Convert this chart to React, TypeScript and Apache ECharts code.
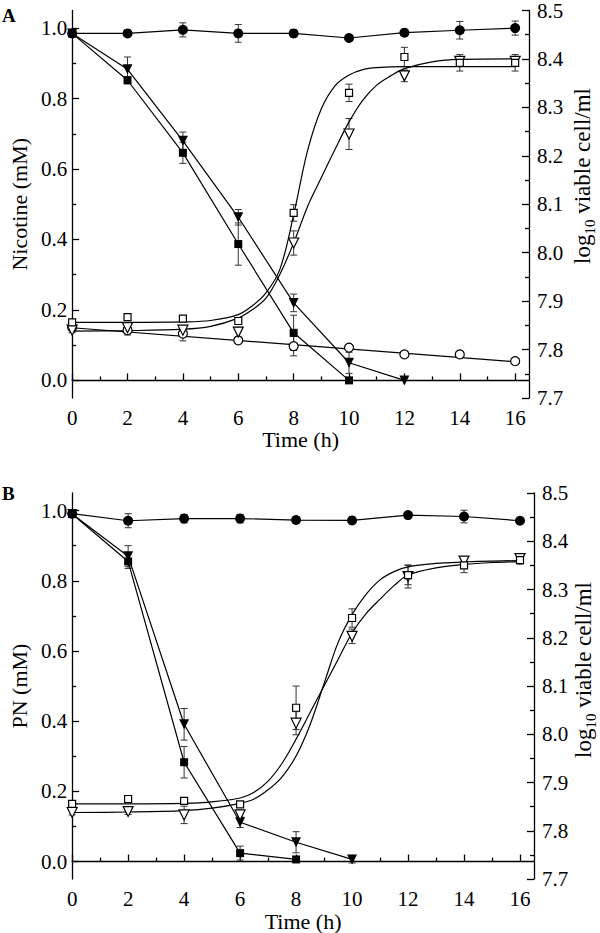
import React, { useEffect, useRef } from "react";
import * as echarts from "echarts";

// ---------- Data ----------
const time = [0, 2, 4, 6, 8, 10, 12, 14, 16];
const xTicks = [0, 2, 4, 6, 8, 10, 12, 14, 16];
const xMinorTicks = [1, 3, 5, 7, 9, 11, 13, 15];
const leftTicks = [0, 0.2, 0.4, 0.6, 0.8, 1.0];
const leftMinorTicks = [0.1, 0.3, 0.5, 0.7, 0.9];
const rightTicks = [7.7, 7.8, 7.9, 8.0, 8.1, 8.2, 8.3, 8.4, 8.5];
const rightMinorTicks = [7.75, 7.85, 7.95, 8.05, 8.15, 8.25, 8.35, 8.45];

// Panel A – nicotine (mM), left axis
const nicA_ctrl = [0.985, 0.985, 0.995, 0.985, 0.985, 0.972, 0.987, 0.994, 1.0];
const nicA_ctrlErr = [0.01, 0.005, 0.02, 0.025, 0.01, 0.005, 0.005, 0.025, 0.02];
const nicA_sq = [0.985, 0.852, 0.646, 0.387, 0.135, 0.0];
const nicA_sqErr = [0.01, 0.01, 0.03, 0.06, 0.05, 0];
const nicA_tri = [0.985, 0.883, 0.68, 0.463, 0.22, 0.05, 0.0];
const nicA_triErr = [0.01, 0.035, 0.025, 0.022, 0.025, 0.03, 0];
// Panel A – log10 viable cell/ml, right axis
const cellA_sq = [7.856, 7.867, 7.864, 7.859, 8.082, 8.33, 8.404, 8.392, 8.392];
const cellA_sqErr = [0.005, 0.006, 0.006, 0.005, 0.017, 0.018, 0.02, 0.017, 0.017];
const cellA_tri = [7.84, 7.845, 7.84, 7.836, 8.02, 8.245, 8.365, 8.395, 8.395];
const cellA_triErr = [0.005, 0.008, 0.005, 0.01, 0.025, 0.032, 0.012, 0.006, 0.006];
const cellA_circ = [7.846, 7.84, 7.833, 7.819, 7.807, 7.804, 7.79, 7.79, 7.776];
const cellA_circErr = [0.005, 0.01, 0.015, 0.005, 0.02, 0.005, 0.004, 0.003, 0.004];
// Panel A – fitted curves
const fitA_sqX = [0, 2, 4, 5, 6, 6.5, 7, 7.5, 8, 8.5, 9, 9.5, 10, 10.5, 11, 12, 14, 16];
const fitA_sqY = [7.856, 7.856, 7.857, 7.86, 7.872, 7.89, 7.917, 7.965, 8.078, 8.21, 8.297, 8.345, 8.367, 8.378, 8.382, 8.384, 8.384, 8.384];
const fitA_triX = [0, 2, 4, 5, 6, 6.5, 7, 7.5, 8, 8.5, 9, 9.5, 10, 10.5, 11, 11.5, 12, 13, 14, 16];
const fitA_triY = [7.838, 7.839, 7.842, 7.848, 7.865, 7.882, 7.906, 7.955, 8.02, 8.095, 8.155, 8.214, 8.27, 8.315, 8.346, 8.365, 8.38, 8.394, 8.399, 8.4];
const fitA_circX = [0, 16];
const fitA_circY = [7.845, 7.775];

// Panel B – PN (mM), left axis
const pnB_ctrl = [0.991, 0.971, 0.977, 0.977, 0.973, 0.972, 0.987, 0.983, 0.971];
const pnB_ctrlErr = [0.005, 0.02, 0.012, 0.012, 0.008, 0.005, 0.005, 0.018, 0.005];
const pnB_sq = [0.99, 0.855, 0.283, 0.024, 0.006];
const pnB_sqErr = [0.01, 0.02, 0.045, 0.02, 0];
const pnB_tri = [0.99, 0.87, 0.391, 0.112, 0.055, 0.006];
const pnB_triErr = [0.01, 0.03, 0.045, 0.015, 0.03, 0.01];
// Panel B – log10 viable cell/ml, right axis
const cellB_sq = [7.856, 7.866, 7.862, 7.855, 8.055, 8.241, 8.33, 8.35, 8.361];
const cellB_sqErr = [0.005, 0.005, 0.005, 0.005, 0.045, 0.019, 0.02, 0.015, 0.008];
const cellB_tri = [7.838, 7.84, 7.833, 7.833, 8.023, 8.203, 8.327, 8.359, 8.364];
const cellB_triErr = [0.005, 0.006, 0.018, 0.006, 0.024, 0.015, 0.024, 0.006, 0.006];
// Panel B – fitted curves
const fitB_X = [0, 2, 4, 5, 6, 6.5, 7, 7.5, 8, 8.5, 9, 9.5, 10, 10.5, 11, 11.5, 12, 13, 14, 15, 16];
const fitB_sqY = [7.856, 7.856, 7.857, 7.86, 7.868, 7.88, 7.903, 7.94, 7.99, 8.045, 8.1, 8.155, 8.21, 8.25, 8.28, 8.308, 8.33, 8.345, 8.352, 8.356, 8.358];
const fitB_triY = [7.838, 7.839, 7.842, 7.847, 7.857, 7.866, 7.885, 7.912, 7.955, 8.02, 8.105, 8.19, 8.248, 8.29, 8.32, 8.337, 8.347, 8.354, 8.357, 8.359, 8.36];

// ---------- Helpers ----------
const FONT = "Liberation Serif";
const pts = (xs: number[], ys: number[]) => ys.map((y, i) => [xs[i], y]);
const errPts = (xs: number[], ys: number[], es: number[]) => ys.map((y, i) => [xs[i], y, es[i]]);

const errRender = (params: any, api: any) => {
  const x = api.value(0), y = api.value(1), e = api.value(2);
  if (!e) return { type: "group", children: [] };
  const t = api.coord([x, y + e]);
  const b = api.coord([x, y - e]);
  const w = 3.5;
  const st = { stroke: "#333", lineWidth: 1 };
  return {
    type: "group",
    children: [
      { type: "line", shape: { x1: t[0], y1: t[1], x2: b[0], y2: b[1] }, style: st },
      { type: "line", shape: { x1: t[0] - w, y1: t[1], x2: t[0] + w, y2: t[1] }, style: st },
      { type: "line", shape: { x1: b[0] - w, y1: b[1], x2: b[0] + w, y2: b[1] }, style: st },
    ],
  };
};

const errSeries = (xi: number, yi: number, ys: number[], es: number[]) => ({
  type: "custom",
  xAxisIndex: xi,
  yAxisIndex: yi,
  renderItem: errRender,
  encode: { x: 0, y: 1 },
  data: errPts(time, ys, es),
  z: 2,
  silent: true,
});

const filledLine = (xi: number, yi: number, ys: number[], symbol: string, size: number, rotate = 0) => ({
  type: "line",
  xAxisIndex: xi,
  yAxisIndex: yi,
  data: pts(time, ys),
  symbol,
  symbolSize: size,
  symbolRotate: rotate,
  showAllSymbol: true,
  lineStyle: { color: "#000", width: 1.2 },
  itemStyle: { color: "#000" },
  z: 4,
});

const openScatter = (xi: number, yi: number, ys: number[], symbol: string, size: number, rotate = 0) => ({
  type: "scatter",
  xAxisIndex: xi,
  yAxisIndex: yi,
  data: pts(time, ys),
  symbol,
  symbolSize: size,
  symbolRotate: rotate,
  itemStyle: { color: "#fff", borderColor: "#000", borderWidth: 1.2, opacity: 1 },
  z: 5,
});

const fitLine = (xi: number, yi: number, xs: number[], ys: number[], smooth: boolean) => ({
  type: "line",
  xAxisIndex: xi,
  yAxisIndex: yi,
  data: pts(xs, ys),
  showSymbol: false,
  smooth: smooth ? 0.35 : false,
  lineStyle: { color: "#000", width: 1.2 },
  z: 3,
});

const labelStyle = { fontFamily: FONT, fontSize: 21, color: "#000" };
const lineStyle = { color: "#000", width: 1.3 };

const xAxes = (gi: number, nameGap: number) => [
  {
    gridIndex: gi,
    type: "value",
    position: "bottom",
    min: 0,
    max: 16.5,
    name: "Time (h)",
    nameLocation: "middle",
    nameGap,
    nameTextStyle: { fontFamily: FONT, fontSize: 22, color: "#000" },
    axisLine: { lineStyle },
    axisTick: { inside: true, length: 7, customValues: xTicks, lineStyle },
    axisLabel: { ...labelStyle, margin: 9, customValues: xTicks, formatter: (v: number) => String(v) },
    splitLine: { show: false },
  },
  {
    gridIndex: gi,
    type: "value",
    position: "bottom",
    min: 0,
    max: 16.5,
    axisLine: { show: false },
    axisTick: { inside: true, length: 4, customValues: xMinorTicks, lineStyle },
    axisLabel: { show: false },
    splitLine: { show: false },
  },
];

const yAxes = (gi: number, name: string, nameGap: number) => [
  {
    gridIndex: gi,
    type: "value",
    position: "left",
    min: -0.05,
    max: 1.05,
    name,
    nameLocation: "middle",
    nameGap,
    nameTextStyle: { fontFamily: FONT, fontSize: 22, color: "#000" },
    axisLine: { show: true, lineStyle },
    axisTick: { inside: true, length: 7, customValues: leftTicks, lineStyle },
    axisLabel: { ...labelStyle, margin: 5, customValues: leftTicks, formatter: (v: number) => v.toFixed(1) },
    splitLine: { show: false },
  },
  {
    gridIndex: gi,
    type: "value",
    position: "left",
    min: -0.05,
    max: 1.05,
    axisLine: { show: false },
    axisTick: { inside: true, length: 4, customValues: leftMinorTicks, lineStyle },
    axisLabel: { show: false },
    splitLine: { show: false },
  },
  {
    gridIndex: gi,
    type: "value",
    position: "right",
    min: 7.7,
    max: 8.5,
    axisLine: { show: true, lineStyle },
    axisTick: { inside: true, length: 7, customValues: rightTicks, lineStyle },
    axisLabel: { ...labelStyle, margin: 8, customValues: rightTicks, formatter: (v: number) => v.toFixed(1) },
    splitLine: { show: false },
  },
  {
    gridIndex: gi,
    type: "value",
    position: "right",
    min: 7.7,
    max: 8.5,
    axisLine: { show: false },
    axisTick: { inside: true, length: 4, customValues: rightMinorTicks, lineStyle },
    axisLabel: { show: false },
    splitLine: { show: false },
  },
];

const rightName = (x: number, y: number) => ({
  type: "text",
  x,
  y,
  rotation: Math.PI / 2,
  style: {
    text: "{a|log}{s|10}{a| viable cell/ml}",
    align: "center",
    verticalAlign: "middle",
    fill: "#000",
    rich: {
      a: { fontFamily: FONT, fontSize: 23, lineHeight: 30, verticalAlign: "middle", fill: "#000" },
      s: { fontFamily: FONT, fontSize: 15, lineHeight: 15, verticalAlign: "bottom", fill: "#000" },
    },
  },
});

export default function App() {
  const ref = useRef<HTMLDivElement>(null);
  useEffect(() => {
    if (!ref.current) return;
    const chart = echarts.init(ref.current, undefined, { renderer: "svg" });
    const option: any = {
      animation: false,
      backgroundColor: "#fff",
      textStyle: { fontFamily: FONT },
      grid: [
        { left: 58, right: 71, top: 9, height: 389 },
        { left: 63, right: 66, top: 493, height: 390 },
      ],
      xAxis: [...xAxes(0, 30), ...xAxes(1, 25)],
      yAxis: [...yAxes(0, "Nicotine (mM)", 33), ...yAxes(1, "PN (mM)", 37)],
      graphic: [
        { type: "text", x: 2, y: 6, style: { text: "A", fontFamily: FONT, fontSize: 19, fontWeight: "bold", fill: "#000" } },
        { type: "text", x: 2, y: 484, style: { text: "B", fontFamily: FONT, fontSize: 19, fontWeight: "bold", fill: "#000" } },
        rightName(582, 176),
        rightName(583, 670),
      ],
      series: [
        errSeries(0, 0, nicA_ctrl, nicA_ctrlErr),
        errSeries(0, 0, nicA_sq, nicA_sqErr),
        errSeries(0, 0, nicA_tri, nicA_triErr),
        errSeries(0, 2, cellA_sq, cellA_sqErr),
        errSeries(0, 2, cellA_tri, cellA_triErr),
        errSeries(0, 2, cellA_circ, cellA_circErr),
        fitLine(0, 2, fitA_sqX, fitA_sqY, true),
        fitLine(0, 2, fitA_triX, fitA_triY, true),
        fitLine(0, 2, fitA_circX, fitA_circY, false),
        filledLine(0, 0, nicA_ctrl, "circle", 10),
        filledLine(0, 0, nicA_sq, "rect", 8),
        filledLine(0, 0, nicA_tri, "triangle", 10, 180),
        openScatter(0, 2, cellA_circ, "circle", 9),
        openScatter(0, 2, cellA_tri, "triangle", 10, 180),
        openScatter(0, 2, cellA_sq, "rect", 7),
        errSeries(2, 4, pnB_ctrl, pnB_ctrlErr),
        errSeries(2, 4, pnB_sq, pnB_sqErr),
        errSeries(2, 4, pnB_tri, pnB_triErr),
        errSeries(2, 6, cellB_sq, cellB_sqErr),
        errSeries(2, 6, cellB_tri, cellB_triErr),
        fitLine(2, 6, fitB_X, fitB_sqY, true),
        fitLine(2, 6, fitB_X, fitB_triY, true),
        filledLine(2, 4, pnB_ctrl, "circle", 10),
        filledLine(2, 4, pnB_sq, "rect", 8),
        filledLine(2, 4, pnB_tri, "triangle", 10, 180),
        openScatter(2, 6, cellB_tri, "triangle", 10, 180),
        openScatter(2, 6, cellB_sq, "rect", 7),
      ],
    };
    chart.setOption(option);
    return () => chart.dispose();
  }, []);
  return (
    <div
      ref={ref}
      style={{ position: "absolute", left: 0, top: 0, width: 600, height: 933, background: "#fff" }}
    />
  );
}
